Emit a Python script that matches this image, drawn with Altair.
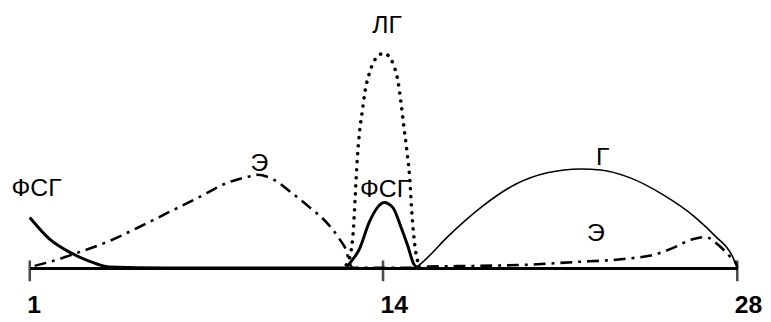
import altair as alt
import pandas as pd

# --- data (day of cycle, relative level) ---
fsh_day = [1.0, 1.73, 2.46, 3.18, 3.91, 6.0, 9.0, 12.65, 12.76, 13.13, 13.49,
           13.82, 14.04, 14.39, 14.70, 14.98, 15.21, 15.35]
fsh_val = [19.8, 11.3, 6.2, 2.7, 0.4, 0, 0, 0, 1.6, 7.4, 17.9,
           24.1, 25.7, 23.7, 16.3, 8.6, 1.6, 0]

est_day = [1.18, 1.84, 2.93, 3.91, 5.01, 6.10, 7.19, 8.28, 9.01, 9.38,
           9.99, 10.58, 11.31, 11.92, 12.40, 12.65, 12.76, 12.9,
           15.3, 15.41, 17.64, 19.59, 21.55, 23.50, 24.79, 25.45, 26.24, 26.74,
           27.30, 27.69, 27.92, 28.0]
est_val = [0.8, 2.7, 6.6, 10.5, 16.0, 21.8, 27.6, 33.5, 35.8, 36.6,
           34.6, 30.0, 23.7, 17.9, 11.3, 6.6, 2.3, 0,
           0, 0.4, 0.8, 1.2, 2.3, 3.5, 5.4, 7.8, 11.3, 12.1,
           8.6, 4.7, 2.3, 0.4]

lh_day = [12.65, 12.80, 12.91, 12.98, 13.05, 13.13, 13.24, 13.34, 13.49, 13.67,
          13.82, 14.0, 14.23, 14.43, 14.59, 14.70, 14.82, 14.94, 15.06, 15.13,
          15.21, 15.29, 15.41]
lh_val = [1.2, 5.4, 15.2, 28.8, 42.4, 52.9, 61.9, 69.6, 76.3, 81.3,
          83.3, 84.4, 83.3, 79.4, 73.5, 65.8, 56.0, 46.3, 34.6, 23.0,
          13.2, 6.6, 1.2]

prog_day = [15.29, 15.57, 16.58, 17.91, 19.20, 20.49, 21.82, 22.60, 23.77,
            25.06, 26.35, 27.13, 27.80, 28.0]
prog_val = [0, 2.3, 12.5, 24.1, 32.7, 37.4, 38.9, 38.5, 35.4,
            28.8, 19.8, 12.5, 4.7, 0]

label_text = ["ЛГ", "Э", "ФСГ", "ФСГ", "Г", "Э"]
label_day = [14.16, 9.45, 1.25, 14.08, 22.68, 22.41]
label_val = [95.5, 41.2, 31.5, 31.1, 43.6, 13.6]

tick_days = [1, 14, 28]
tick_val = [0, 0, 0]

# --- shared encodings ---
x_enc = alt.X(
    "day:Q",
    scale=alt.Scale(domain=[1, 14, 28], range=[0, 357, 715], nice=False, zero=False),
    axis=alt.Axis(
        values=tick_days, format="d", title=None, grid=False, ticks=False,
        domain=True, domainColor="black", domainWidth=3,
        labelFont="Liberation Sans", labelFontSize=25, labelFontWeight="bold",
        labelColor="black", labelAlign="left", labelOffset=-3,
        labelBaseline="alphabetic", labelPadding=45,
        labelFlush=False, labelOverlap=False,
    ),
)
y_enc = alt.Y("v:Q", scale=alt.Scale(domain=[0, 100], nice=False, zero=False), axis=None)


def frame(days, vals):
    return pd.DataFrame({"day": days, "v": vals})


prog = alt.Chart(frame(prog_day, prog_val)).mark_line(
    color="black", strokeWidth=1.6, interpolate="monotone"
).encode(x=x_enc, y=y_enc)

est = alt.Chart(frame(est_day, est_val)).mark_line(
    color="black", strokeWidth=2.6, strokeDash=[12, 6, 3, 6], interpolate="monotone"
).encode(x=x_enc, y=y_enc)

lh = alt.Chart(frame(lh_day, lh_val)).mark_line(
    color="black", strokeWidth=3.6, strokeDash=[0.1, 8], strokeCap="round",
    interpolate="monotone"
).encode(x=x_enc, y=y_enc)

fsh = alt.Chart(frame(fsh_day, fsh_val)).mark_line(
    color="black", strokeWidth=3, interpolate="monotone"
).encode(x=x_enc, y=y_enc)

ticks = alt.Chart(frame(tick_days, tick_val)).mark_tick(
    orient="vertical", size=21, thickness=2.6, color="black", yOffset=3
).encode(x=x_enc, y=y_enc)

labels = alt.Chart(
    pd.DataFrame({"day": label_day, "v": label_val, "t": label_text})
).mark_text(
    font="Liberation Sans", fontSize=25, color="black", align="center", baseline="middle"
).encode(x=x_enc, y=y_enc, text="t:N")

chart = alt.layer(prog, est, lh, fsh, ticks, labels).properties(
    width=715,
    height=257,
    padding={"left": 22, "top": 4, "right": 26, "bottom": 53},
    autosize=alt.AutoSizeParams(type="none"),
    background="white",
).configure_view(stroke=None)

chart.save("out.html", embed_options={"renderer": "svg", "actions": False})
